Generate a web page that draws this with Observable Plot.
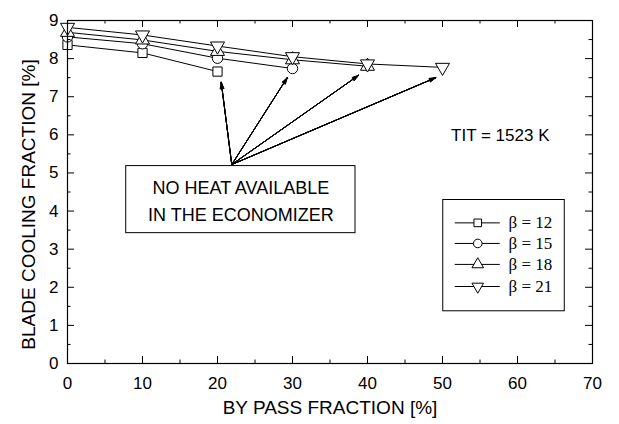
<!DOCTYPE html>
<html><head><meta charset="utf-8">
<script src="https://cdn.jsdelivr.net/npm/d3@7"></script>
<script src="https://cdn.jsdelivr.net/npm/@observablehq/plot@0.6"></script>
<style>body{margin:0;background:#fff}</style>
</head><body><div id="chart"></div>
<script>
// ---- data ----
const bypassFraction = [0, 10, 20, 30, 40, 50];
const beta12 = [8.36, 8.15, 7.66];
const beta15 = [8.57, 8.39, 8.01, 7.74];
const beta18 = [8.69, 8.49, 8.19, 7.97, 7.80];
const beta21 = [8.82, 8.62, 8.33, 8.05, 7.86, 7.77];
const seriesNames = ["β = 12", "β = 15", "β = 18", "β = 21"];
const seriesValues = [beta12, beta15, beta18, beta21];
const seriesSymbols = ["square", "circle", "triangle", "triangle"];
const seriesRotate = [0, 0, 0, 180];
const xTickValues = [0, 10, 20, 30, 40, 50, 60, 70];
const xMinorTicks = [5, 15, 25, 35, 45, 55, 65];
const yTickValues = [0, 1, 2, 3, 4, 5, 6, 7, 8, 9];
const yMinorTicks = [0.5, 1.5, 2.5, 3.5, 4.5, 5.5, 6.5, 7.5, 8.5];
const annotationLines = ["NO HEAT AVAILABLE", "IN THE ECONOMIZER"];
const noteText = "TIT = 1523 K";
const xTitle = "BY PASS FRACTION [%]";
const yTitle = "BLADE COOLING FRACTION [%]";
// annotation arrows (tips near the last point of each series)
const arrowTipX = [20.5, 29.3, 38.8, 49.1];
const arrowTipY = [7.38, 7.50, 7.56, 7.50];

// ---- layout (in data units of the chart) ----
const arrowOrigin = {x: 21.9, y: 5.22};
const noteBox = {x1: 7.83, x2: 38.4, y1: 3.42, y2: 5.18};
const noteLineY = [4.59, 3.88];
const notePos = {x: 57.7, y: 5.98};
const legendBox = {x1: 50.1, x2: 66.3, y1: 1.37, y2: 4.29};
const legendRowY = [3.69, 3.15, 2.60, 2.02];
const legendLine = {x1: 51.7, x2: 57.7, mark: 54.7, text: 58.8};

const rows = seriesValues.flatMap((vals, i) => vals.map((v, j) => ({
  series: seriesNames[i], x: bypassFraction[j], y: v, rot: seriesRotate[i]
})));
const arrows = arrowTipX.map((x, i) => ({x, y: arrowTipY[i]}));
const legendRows = seriesNames.map((name, i) => ({name, y: legendRowY[i], rot: seriesRotate[i]}));

const W = 619, H = 424, mL = 67, mR = 27, mT = 20, mB = 61;
const plotH = H - mT - mB, plotW = W - mL - mR;
const sans = "Liberation Sans, Arial, sans-serif";
const serif = "Liberation Serif, Times New Roman, serif";

const headAngles = [34, 26, 18, 10, 2];

const chart = Plot.plot({
  width: W, height: H,
  marginLeft: mL, marginRight: mR, marginTop: mT, marginBottom: mB,
  style: {fontFamily: sans, background: "white", color: "black"},
  x: {domain: [0, 70]},
  y: {domain: [0, 9]},
  symbol: {domain: seriesNames, range: seriesSymbols},
  marks: [
    // annotation box + text
    Plot.rect([noteBox], {x1: "x1", x2: "x2", y1: "y1", y2: "y2", fill: "white", stroke: "black", strokeWidth: 1}),
    Plot.text(annotationLines, {x: () => (noteBox.x1 + noteBox.x2) / 2, y: (d, i) => noteLineY[i], text: d => d,
      fontSize: 18, fontFamily: sans, fill: "black"}),
    // arrows (stacked to fill the heads)
    ...headAngles.map(a => Plot.arrow(arrows, {x1: () => arrowOrigin.x, y1: () => arrowOrigin.y, x2: "x", y2: "y",
      stroke: "black", strokeWidth: 1, headLength: 10, headAngle: a})),
    // series
    Plot.line(rows, {x: "x", y: "y", z: "series", stroke: "black", strokeWidth: 1}),
    Plot.dot(rows, {x: "x", y: "y", symbol: "series", rotate: "rot", r: 5.2, fill: "white", stroke: "black", strokeWidth: 1}),
    // note
    Plot.text([noteText], {x: () => notePos.x, y: () => notePos.y, text: d => d, fontSize: 17, fontFamily: sans, fill: "black"}),
    // legend
    Plot.rect([legendBox], {x1: "x1", x2: "x2", y1: "y1", y2: "y2", fill: "white", stroke: "black", strokeWidth: 1}),
    Plot.ruleY(legendRows, {y: "y", x1: () => legendLine.x1, x2: () => legendLine.x2, stroke: "black", strokeWidth: 1}),
    Plot.dot(legendRows, {x: () => legendLine.mark, y: "y", symbol: "name", rotate: "rot", r: 4.3, fill: "white", stroke: "black", strokeWidth: 1}),
    Plot.text(legendRows, {x: () => legendLine.text, y: "y", text: "name", textAnchor: "start", fontSize: 17, fontFamily: serif, fill: "black"}),
    // inward ticks
    Plot.tickX(xTickValues, {x: d => d, insetTop: plotH - 7, stroke: "black"}),
    Plot.tickX(xTickValues, {x: d => d, insetBottom: plotH - 7, stroke: "black"}),
    Plot.tickX(xMinorTicks, {x: d => d, insetTop: plotH - 3.5, stroke: "black"}),
    Plot.tickX(xMinorTicks, {x: d => d, insetBottom: plotH - 3.5, stroke: "black"}),
    Plot.tickY(yTickValues, {y: d => d, insetRight: plotW - 7, stroke: "black"}),
    Plot.tickY(yTickValues, {y: d => d, insetLeft: plotW - 7, stroke: "black"}),
    Plot.tickY(yMinorTicks, {y: d => d, insetRight: plotW - 3.5, stroke: "black"}),
    Plot.tickY(yMinorTicks, {y: d => d, insetLeft: plotW - 3.5, stroke: "black"}),
    // axes labels
    Plot.axisX(xTickValues, {tickSize: 0, tickPadding: 13, fontSize: 17, label: null, fill: "black"}),
    Plot.axisY(yTickValues, {tickSize: 0, tickPadding: 9, fontSize: 17, label: null, fill: "black"}),
    Plot.frame({stroke: "black", strokeWidth: 1.2}),
    Plot.text([xTitle], {frameAnchor: "bottom", dy: 50, text: d => d, fontSize: 19, fontFamily: sans, fill: "black"}),
    Plot.text([yTitle], {frameAnchor: "left", textAnchor: "middle", dx: -39, dy: 12.5, rotate: -90, text: d => d, fontSize: 19, fontFamily: sans, fill: "black"})
  ]
});
document.getElementById("chart").appendChild(chart);
</script>
</body></html>
